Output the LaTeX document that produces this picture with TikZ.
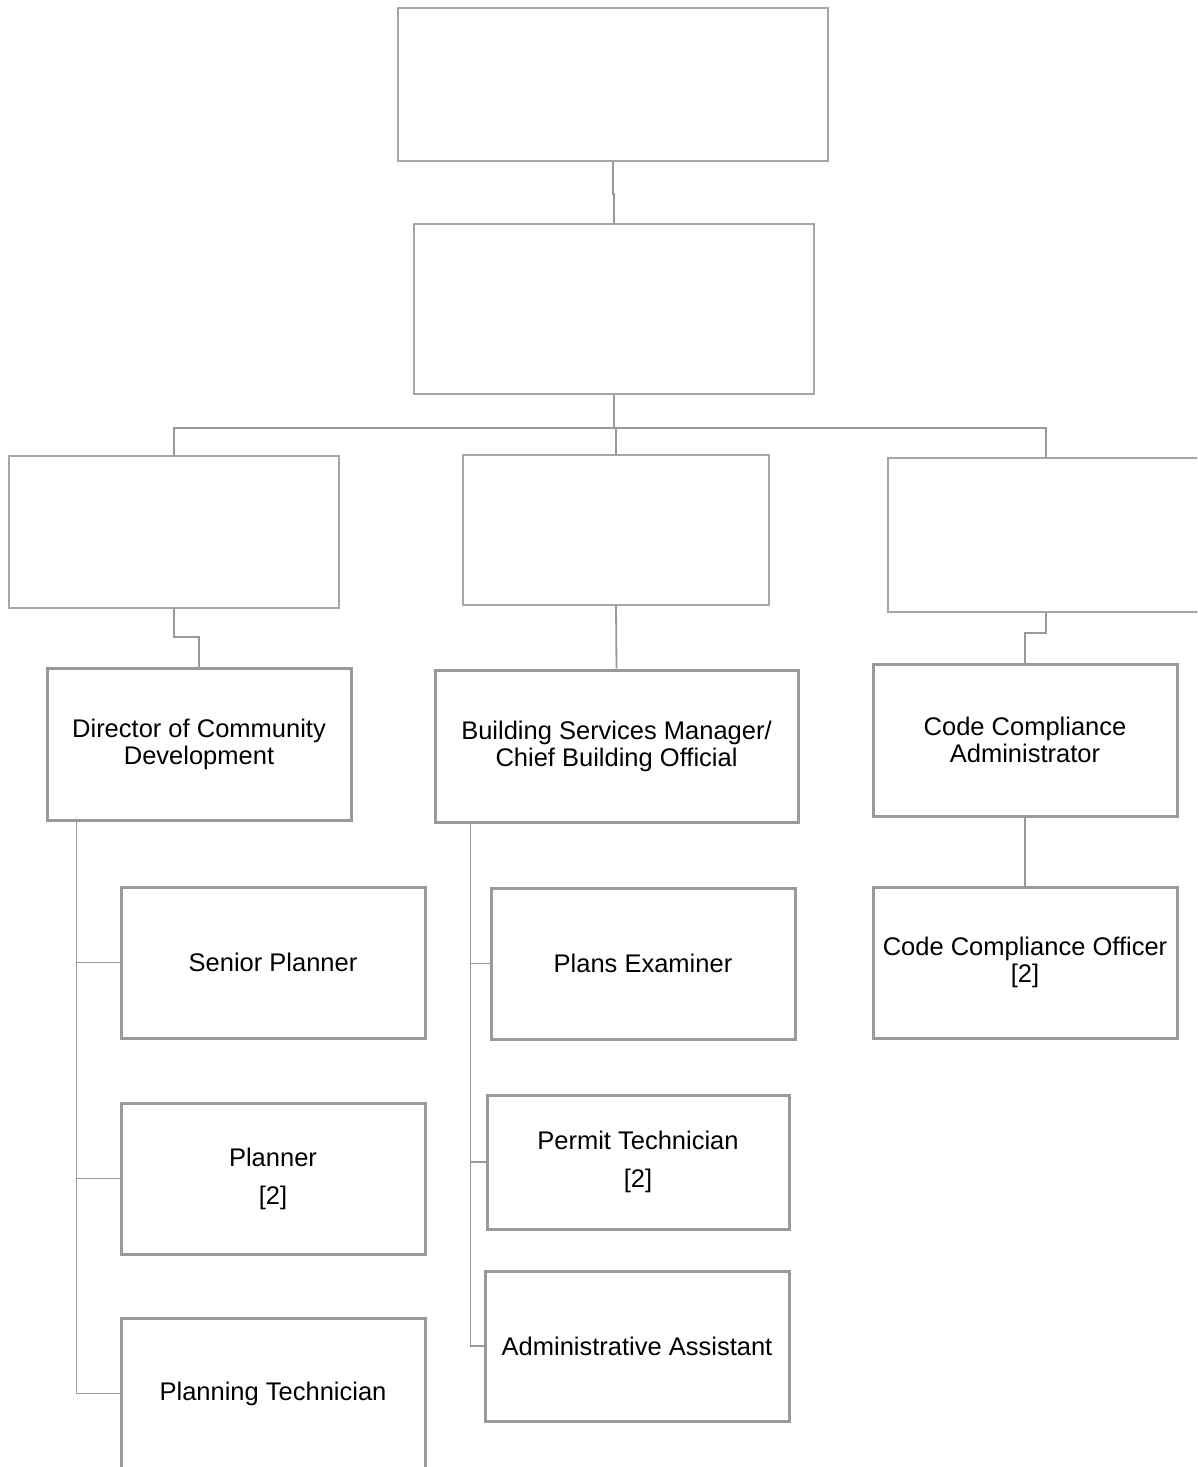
\documentclass[tikz,border=0pt]{standalone}
\usepackage{fontspec}
\setmainfont{Liberation Sans}
\usepackage{tikz}
\usetikzlibrary{positioning, calc}
\usepackage{xcolor}
\definecolor{boxgray}{HTML}{A6A6A6}
\definecolor{linegray}{HTML}{999999}

\begin{document}
\begin{tikzpicture}[
    x=1pt, y=-1pt,
    every node/.style={font=\fontsize{25.5pt}{27pt}\selectfont},
    blank/.style={draw=boxgray, line width=1.3pt, inner sep=0pt},
    post/.style={draw=linegray, line width=3pt, align=center, inner sep=0pt,
                 minimum width=304pt, minimum height=151pt},
    link/.style={draw=linegray, line width=1.8pt},
    spine/.style={draw=linegray, line width=1.5pt}
  ]
    \clip (0,0) rectangle (1197,1467);
    \node[blank, minimum width=430pt, minimum height=153pt] (top) at (613,84.5) {};
    \node[blank, minimum width=400pt, minimum height=170pt] (mgr) at (614,309) {};
    \node[blank, minimum width=330pt, minimum height=152pt] (unitA) at (174,532) {};
    \node[blank, minimum width=306pt, minimum height=150pt] (unitB) at (616,530) {};
    \node[blank, minimum width=316pt, minimum height=154pt] (unitC) at (1046,535) {};

    \node[post, minimum height=152pt] (dir) at (199,744) {Director of Community\\Development};
    \node[post, minimum width=363pt, minimum height=152pt] (bsm) at (616.5,746)
         {Building Services Manager/\\Chief Building Official};
    \node[post, minimum height=152pt] (cca) at (1025,740) {Code Compliance\\Administrator};

    \node[post] (senior) at (273,962.5) {Senior Planner};
    \node[post, below=62pt of senior] (planner) {Planner\\[11pt]{[2]}};
    \node[post, below=61pt of planner] (plantech) {Planning Technician};

    \node[post] (pexam) at (643,963.5) {Plans Examiner};
    \node[post, minimum width=302pt, minimum height=134pt] (permit) at (638,1162)
         {Permit Technician\\[11pt]{[2]}};
    \node[post, minimum height=150pt] (admin) at (637,1346) {Administrative Assistant};

    \node[post] (cco) at (1025,962.5) {Code Compliance Officer\\{[2]}};

    \draw[link] (top.south) -- ++(0,32) -| (mgr.north);
    \draw[link] (mgr.south) -- ++(0,33) coordinate (bus);
    \draw[link] (bus) -| (unitA.north);
    \draw[link] (bus) -| (unitB.north);
    \draw[link] (bus) -| (unitC.north);
    \draw[link] (unitA.south) -- ++(0,28) -| (dir.north);
    \draw[link] (unitB.south) -- (bsm.north);
    \draw[link] (unitC.south) -- ++(0,20) -| (cca.north);
    \draw[link] (cca) -- (cco);

    \draw[spine] ([xshift=31pt]dir.south west) |- (senior.west);
    \draw[spine] ([xshift=31pt]dir.south west) |- (planner.west);
    \draw[spine] ([xshift=31pt]dir.south west) |- (plantech.west);
    \draw[spine] ([xshift=37pt]bsm.south west) |- (pexam.west);
    \draw[spine] ([xshift=37pt]bsm.south west) |- (permit.west);
    \draw[spine] ([xshift=37pt]bsm.south west) |- (admin.west);
  \end{tikzpicture}
\end{document}
